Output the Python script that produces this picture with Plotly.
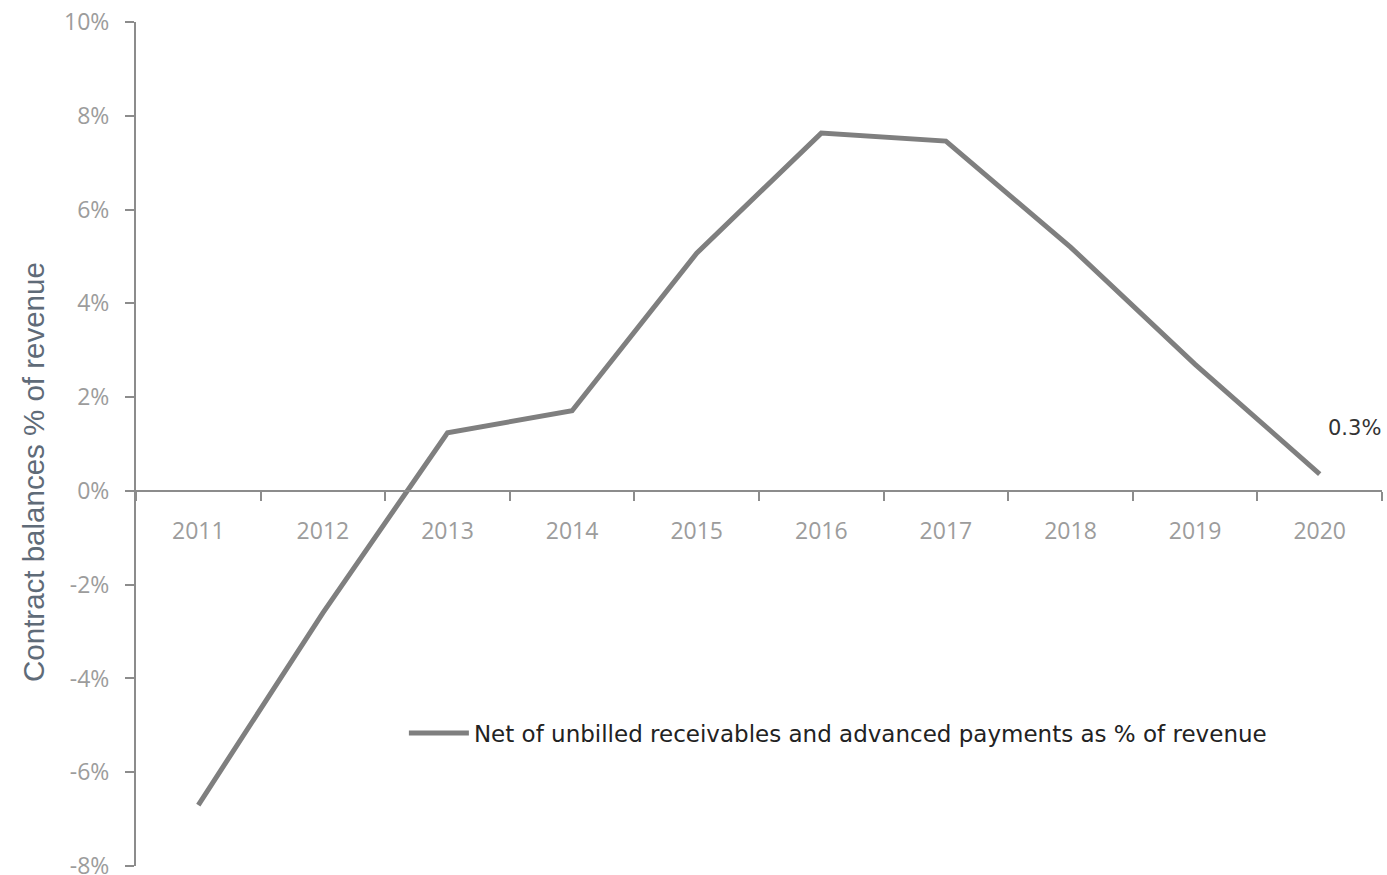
import plotly.graph_objects as go

years = ["2011", "2012", "2013", "2014", "2015", "2016", "2017", "2018", "2019", "2020"]
values = [-6.7, -2.6, 1.24, 1.71, 5.07, 7.63, 7.46, 5.2, 2.7, 0.36]
series_name = "Net of unbilled receivables and advanced payments as % of revenue"
y_ticks = [-8, -6, -4, -2, 0, 2, 4, 6, 8, 10]
y_tick_text = ["-8%", "-6%", "-4%", "-2%", "0%", "2%", "4%", "6%", "8%", "10%"]
last_label = "0.3%"

axis_color = "#8c8c8c"
tick_font = dict(family="Open Sans", size=23, color="#9c9c9c")

fig = go.Figure()
fig.add_trace(go.Scatter(
    x=years, y=values, mode="lines", name=series_name,
    line=dict(color="#7f7f7f", width=5),
    showlegend=True,
))

fig.add_annotation(
    x=len(years) - 1, y=values[-1], xref="x", yref="y",
    text=last_label, showarrow=False,
    xanchor="left", yanchor="middle", xshift=6, yshift=46,
    font=dict(family="DejaVu Sans", size=21, color="#333333"),
)

fig.add_annotation(
    x=-0.0827, y=0.4668, xref="paper", yref="paper",
    text="Contract balances % of revenue", showarrow=False,
    textangle=-90, xanchor="center", yanchor="middle",
    font=dict(family="Liberation Sans", size=29.5, color="#5f6b78"),
)

ymin, ymax = -8, 10
fig.update_layout(
    width=1387, height=875,
    margin=dict(l=136, r=5, t=22, b=9),
    plot_bgcolor="white", paper_bgcolor="white",
    xaxis=dict(
        type="category", range=[-0.5, 9.5], automargin=False,
        anchor="free", position=(0 - ymin) / (ymax - ymin),
        showline=True, linecolor=axis_color, linewidth=2,
        ticks="outside", ticklen=9, tickcolor=axis_color, tickwidth=2,
        tickson="boundaries", showgrid=False, zeroline=False,
        tickfont=tick_font, ticklabelstandoff=20,
    ),
    yaxis=dict(
        range=[ymin, ymax], tickvals=y_ticks, ticktext=y_tick_text,
        automargin=False,
        showline=True, linecolor=axis_color, linewidth=2,
        ticks="outside", ticklen=9, tickcolor=axis_color, tickwidth=2,
        showgrid=False, zeroline=False, ticklabeloverflow="allow",
        tickfont=tick_font, ticklabelstandoff=11,
    ),
    legend=dict(
        x=0.215, y=0.1576, xanchor="left", yanchor="middle",
        font=dict(family="DejaVu Sans", size=23, color="#222222"),
        bgcolor="rgba(0,0,0,0)", itemwidth=60,
    ),
    showlegend=True,
)

fig.write_html("out.html")
